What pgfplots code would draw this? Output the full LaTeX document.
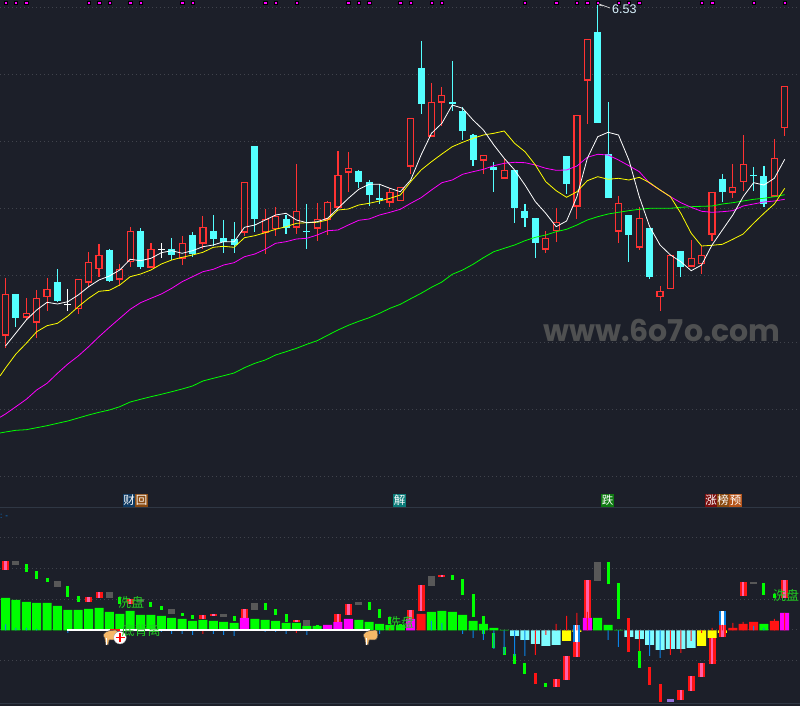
\documentclass[border=0pt]{standalone}
\usepackage{fontspec}
\usepackage{pgfplots}
\usepackage{pgfplotstable}
\pgfplotsset{compat=1.18}
\setmainfont{Liberation Sans}
\newfontfamily\cjk{Noto Sans CJK SC}
\newfontfamily\wm{Poppins}

\definecolor{bg}{HTML}{1C1F29}
\definecolor{sep}{HTML}{2F3744}
\definecolor{griddot}{HTML}{40434C}
\definecolor{upred}{HTML}{FF3232}
\definecolor{downcyan}{HTML}{54FFFF}
\definecolor{barcyan}{HTML}{7FFCFF}
\definecolor{lime}{HTML}{00FF00}
\definecolor{magline}{HTML}{FF00FF}
\definecolor{yelline}{HTML}{FFFF00}
\definecolor{pink}{HTML}{FF5FA8}
\definecolor{pure}{HTML}{FF1414}
\definecolor{grayseg}{HTML}{585858}
\definecolor{bluethin}{HTML}{0A84E8}
\definecolor{purp}{HTML}{9370DB}
\definecolor{handtan}{HTML}{F5B868}
\definecolor{tagnavy}{HTML}{0E3A63}
\definecolor{tagbrown}{HTML}{8A4A10}
\definecolor{tagteal}{HTML}{0A7A78}
\definecolor{taggreen}{HTML}{0F7A12}
\definecolor{tagred}{HTML}{7A0F0F}
\definecolor{tagorange}{HTML}{B5541A}
\definecolor{sigtext}{HTML}{22CC22}

% candles: row positions on the price panel
\pgfplotstableread{
i hi lo top bot
0 278 348 294.3 335.7
2 298.3 320 313.3 317.7
3 290 337.7 298.3 322.7
4 278.3 310.7 289.3 297.3
7 279.3 314 279.3 309.3
8 252 286.7 262.3 282.7
9 244 276.7 255.3 269.3
11 264 286 269.3 279.7
12 227.3 267 231.3 262.3
14 243 267.7 249.3 267.7
17 236 264.7 243.3 258.7
19 216 249.3 227.3 243.7
23 182.3 236 182.3 232.7
25 209 254 219.3 232.7
26 207.3 235.7 216.3 229.3
28 164 234 211.3 227.7
30 203 240.7 219.3 228.7
31 201.3 234.7 202.3 219.7
32 151 207.7 175.3 207.7
33 152 192 168.3 172.7
37 188.3 207 192.3 202.7
38 187.3 201 187.3 201
39 118.3 174 118.3 166.7
41 83 136.7 102.3 136.7
42 87 126 95.3 102.7
46 155.3 174 155.3 160.7
48 159.3 178.7 170.3 178.7
52 231 253 238.3 249.7
53 208 241.7 222.3 231.3
55 115.3 219 115.3 206.7
56 39.3 124 39.3 80.7
59 196 243 203.3 231.7
61 207.3 250 218.3 247.7
63 286 311 291.3 297.3
64 255.3 289.3 255.3 289.3
66 240 266.7 258.3 266.7
67 246 274 255.3 264
68 192.3 241 192.3 234.7
70 164 198 187.3 192.7
71 135 191 164.3 182.3
74 139 196.7 158.3 196.7
75 86.3 136 86.3 128.3
}\upcandles

\pgfplotstableread{
i hi lo top bot
1 294 326.7 294 317.7
5 269.3 302 282 301
10 249 282 250 281
13 228.3 268.7 231 267
16 238 260 249 255
18 232 257 235.3 254
20 215 246 231 239
21 220 252.7 238 241.7
22 222 252.7 239 245
24 146 232 146 219
27 215 234 219 228.3
29 204 249 230.8 231.8
34 170 188 171 182
35 180 206 182 195
36 184 204 198 200
40 41 114 68 104
43 61 111 102 104
44 107.3 140 111.3 131
45 134 166 135 160
47 162 192 167 170
49 170 223 170 208
50 204 227 211 218
51 218 258 218 243
54 156 194 156 184
57 2 123 32 123
58 102 198 154 198
60 215 262 215 235
62 228 279 228 277
65 251 277 251 267
69 174 202 179 192
72 167 191 174.8 175.8
73 166 207 176 204
}\downcandles

\pgfplotstableread{
i hi lo top bot
6 289 310.7 304.5 305.5
15 243.3 257.7 248.8 249.8
}\dojicandles

% moving averages
\pgfplotstableread{
i y
0 346
1 333
2 320
3 310
4 302.3
5 304
6 301.7
7 295
8 286.7
9 280
10 276
11 270
12 259.3
13 260.7
14 258.3
15 252.7
16 250.7
17 253.3
18 250.7
19 246.7
20 245
21 241.7
22 241.7
23 227.3
24 225
25 220
26 215
27 213.3
28 220
29 222.7
30 221.7
31 218.3
32 208.3
33 198.3
34 189.3
35 184.3
36 184.3
37 188.3
38 191.7
39 180
40 155
41 133.3
42 123.3
43 105
44 108.3
45 120
46 130
47 145
48 158.3
49 170
50 185
51 201.7
52 213.3
53 226.7
54 221
55 196.7
56 158.3
57 136.7
58 132.3
59 135
60 160
61 196.7
62 226.7
63 245
64 255
65 261.7
66 270.7
67 265
68 245
69 230
70 215
71 196.7
72 182.7
73 185
74 178.3
75 159.3
}\mafive

\pgfplotstableread{
i y
-0.53 376
0 368
1 354
2 343.3
3 331.7
4 325.7
5 323.3
6 316
7 306.7
8 298.3
9 291.3
10 290.3
11 285
12 276.7
13 274
14 270
15 264
16 260
17 257.3
18 255
19 252.3
20 247.3
21 246.3
22 247.3
23 237.7
24 235.7
25 232.7
26 229.3
27 226.7
28 223.3
29 222.7
30 222.3
31 220
32 210
33 209
34 205
35 203.3
36 201
37 198.3
38 195
39 181.7
40 170
41 161.7
42 154
43 146.7
44 142.3
45 138.3
46 135
47 133.3
48 131
49 143.3
50 151.7
51 165
52 181.7
53 190.7
54 197.3
55 191.7
56 180.7
57 176.7
58 179.3
59 178.3
60 180
61 177.3
62 182.7
63 190
64 196.7
65 213.3
66 233.3
67 246
68 245.3
69 244.3
70 239.3
71 234
72 223.3
73 213.3
74 204
75 188.3
}\maten

\pgfplotstableread{
i y
-0.53 417.3
0 414
1 406.7
2 399.3
3 390
4 383.3
5 373.3
6 364
7 356
8 346.7
9 336.7
10 327.3
11 318.3
12 309.3
13 302.7
14 298.3
15 294
16 288.3
17 281.7
18 276.7
19 271.7
20 269.3
21 265
22 262.7
23 256.7
24 254
25 249.3
26 243.3
27 241.7
28 239
29 238.3
30 235
31 230.7
32 230
33 225
34 220.3
35 219
36 215
37 212.3
38 209.3
39 203.3
40 197.7
41 190
42 182.7
43 180
44 174.3
45 171.7
46 169.3
47 165.7
48 163.3
49 162.3
50 162.7
51 165
52 168.3
53 170.3
54 170
55 166
56 157.3
57 154.3
58 155
59 160
60 165.7
61 171.7
62 183.3
63 190
64 196.7
65 202.7
66 207.3
67 211.3
68 212.3
69 211.7
70 210.7
71 206
72 204
73 202
74 201
75 199.3
}\matwenty

\pgfplotstableread{
i y
-0.53 433
0 432
1 430.3
2 429.7
3 427.7
4 425.7
5 423.3
6 421
7 418
8 415
9 412.3
10 410
11 406.7
12 402
13 399.3
14 396.7
15 394.3
16 391.7
17 389
18 386
19 381
20 378.3
21 375.7
22 373
23 367.7
24 363.3
25 360
26 355
27 351.7
28 348.3
29 344.3
30 340.7
31 335.3
32 330
33 325.3
34 321.3
35 317.7
36 313.3
37 308.3
38 304.3
39 298.7
40 293.3
41 287.3
42 282
43 274.3
44 270
45 264.3
46 257.7
47 251.7
48 248.3
49 245
50 240.7
51 237.3
52 235
53 231.7
54 229.3
55 225
56 220
57 216.7
58 214
59 212.3
60 210.7
61 209.3
62 208.3
63 208.3
64 208.3
65 207.3
66 206.7
67 206.3
68 206
69 204
70 202.7
71 201
72 199.3
73 198.3
74 196.7
75 194.7
}\masixty

% lower panel: wide bars, value = height over the zero line
\pgfplotstableread{
i v
0 32.5
1 30.5
2 28.5
3 27.5
4 27.5
5 24.5
6 20.5
7 20.5
8 21.5
9 22.5
10 18.5
11 16.5
12 19.5
13 15.5
14 15.5
15 14.5
16 12.5
17 11.5
18 9.5
19 10.5
20 9.5
21 8.5
22 7.5
24 11.5
25 10.5
26 9.5
27 7.5
28 7.5
29 4.5
30 4.5
34 10.5
35 8.5
36 6.5
37 5.5
38 5.5
41 18.5
42 19.5
43 18.5
44 15.5
45 9.5
46 6.5
47 2.5
48 0.5
57 12.5
58 5.5
59 0.5
73 6.5
}\greenbars

\pgfplotstableread{
i v
23 12.5
31 5.5
32 8.5
33 11.5
39 11.5
56 12.5
75 17.5
}\magentabars

\pgfplotstableread{
i v
40 16.5
70 2.5
71 6.5
72 8.5
74 9.5
}\redbars

\pgfplotstableread{
i v
54 -10.5
55 -1.5
67 -15.5
68 -7.5
69 -2.5
}\yellowbars

\pgfplotstableread{
i v
49 -5.5
50 -9.5
51 -13.5
52 -15.5
53 -14.5
60 -6.5
61 -8.5
62 -14.5
63 -19.5
64 -18.5
65 -18.5
66 -17.5
}\cyanbars

% floating segments
\pgfplotstableread{
i top bot
0 69.5 60.5
8 33.5 28.5
9 38.5 32.5
12 31.5 26.5
19 15.5 11.5
20 16.5 14.5
23 21.5 12.5
28 10.5 8.5
32 16.5 8.5
33 26.5 15.5
39 20.5 11.5
40 45.5 19.5
42 55.5 53.5
53 -48.5 -56.5
54 -25.5 -49.5
55 -11.5 -26.5
56 50.5 12.5
65 -59.5 -69.5
66 -45.5 -60.5
67 -32.5 -46.5
68 -7.5 -33.5
69 5.5 -6.5
71 48.5 34.5
75 50.5 32.5
}\redpink

\pgfplotstableread{
i top bot
1 69.5 65.5
5 49.5 43.5
10 38.5 32.5
13 31.5 28.5
16 21.5 16.5
21 16.5 13.5
24 27.5 20.5
29 10.5 4.5
34 28.5 25.5
41 54.5 44.5
57 68.5 49.5
72 48.5 46.5
}\grayblocks

\pgfplotstableread{
i top bot
2 66.5 58.5
3 59.5 51.5
4 52.5 48.5
6 44.5 33.5
7 34.5 28.5
11 33.5 26.5
14 28.5 23.5
15 24.5 20.5
17 17.5 14.5
18 15.5 11.5
22 14.5 9.5
25 27.5 20.5
26 21.5 15.5
27 16.5 8.5
30 5.5 4.5
35 28.5 20.5
36 21.5 12.5
37 13.5 6.5
38 6.5 0.5
43 55.5 50.5
44 51.5 35.5
45 36.5 13.5
46 14.5 -3.5
47 -2.5 -17.5
48 -16.5 -24.5
49 -23.5 -33.5
50 -32.5 -43.5
52 -52.5 -56.5
58 68.5 46.5
59 47.5 11.5
61 -20.5 -37.5
73 47.5 35.5
74 36.5 32.5
}\greenseg

\pgfplotstableread{
i top bot
51 -42.5 -53.5
60 12.5 -21.5
62 -36.5 -54.5
63 -53.5 -71.5
}\redseg

\pgfplotstableread{
i top bot
55 5.5 -11.5
69 19.5 5.5
}\blueseg

\pgfplotstableread{
i top bot
64 -68.5 -71.5
}\purpleseg

% thin ticks from the zero line
\pgfplotstableread{
i v
0 6.2
1 2.5
2 2.5
3 1.5
41 9.5
42 7.5
72 4.5
73 2.5
6 -2.5
15 -1.5
16 -3.5
17 -3.5
18 -4.5
20 -3.5
21 -4.5
22 -5.5
25 -1.5
26 -1.5
27 -3.5
29 -4.5
36 -3.5
44 -3.5
45 -7.5
46 -9.5
47 -18.5
48 -23.5
49 -25.5
50 -25.5
58 -9.5
59 -16.5
62 -25.5
63 -27.5
}\bluethins

\pgfplotstableread{
i v
19 -3.5
28 -2.5
37 2.5
51 -24.5
52 -4.5
53 6.5
54 14.5
55 17.5
56 18.5
61 -20.5
64 -24.5
65 -22.5
66 -10.5
67 -2.5
68 2.5
69 5.5
70 7.5
71 8.5
74 11.5
75 17.5
}\redthins

\pgfplotsset{
  panel/.style={scale only axis, width=800pt, xmin=-0.53, xmax=76.47, enlargelimits=false,
    axis line style={draw=none}, tick style={draw=none}, xtick=\empty, yticklabels={},
    ymajorgrids, major grid style={griddot, dash pattern=on 1pt off 3pt, line width=1pt}},
  seg/.style 2 args={forget plot, draw=none, mark=none, error bars/.cd, y dir=plus, y explicit,
    error mark=none, error bar style={draw=#1, line width=#2, solid}},
  bars/.style 2 args={ybar, bar shift=0pt, bar width=#2, fill=#1, draw=none, forget plot},
  ma/.style={#1, line width=.8pt, mark=none, sharp plot, forget plot}
}

% the hand cursor of the signal marks, x y = top left in picture pixels
\newcommand{\handicon}[2]{%
  \begin{scope}[shift={(#1,{706-#2})}]
    \fill[handtan, draw=black!70, line width=.5pt, rounded corners=1pt] (2.5,-2) -- (7,-0.5) -- (14,0) -- (15,-6) -- (13,-10) -- (8,-10) -- (6,-9.5) -- (5.5,-15) -- (2.5,-15) -- (2,-9) -- (0,-5) -- cycle;
    \fill[white] (2.6,-8.5) rectangle (3.6,-14.6);
  \end{scope}}

\begin{document}
\begin{tikzpicture}[x=1pt, y=1pt]
\clip (0,0) rectangle (800,706);
\fill[bg] (0,0) rectangle (800,706);

\begin{axis}[panel, at={(0pt,198pt)}, anchor=south west, height=508pt,
    ymin=0, ymax=508, y dir=reverse,
    ytick={8,75,142,208.7,275.5,342.3,409.1,476}]
  % wicks
  \addplot[seg={upred}{1.1pt}] table[x=i, y=hi, y error expr=\thisrow{lo}-\thisrow{hi}] {\upcandles};
  \addplot[seg={downcyan}{1.1pt}] table[x=i, y=hi, y error expr=\thisrow{lo}-\thisrow{hi}] {\downcandles};
  \addplot[seg={white}{1.1pt}] table[x=i, y=hi, y error expr=\thisrow{lo}-\thisrow{hi}] {\dojicandles};
  % bodies
  \addplot[seg={upred}{7.2pt}] table[x=i, y=top, y error expr=\thisrow{bot}-\thisrow{top}] {\upcandles};
  \addplot[seg={bg}{4.8pt}] table[x=i, y expr=\thisrow{top}+1.2, y error expr=\thisrow{bot}-\thisrow{top}-2.4] {\upcandles};
  \addplot[seg={downcyan}{7pt}] table[x=i, y=top, y error expr=\thisrow{bot}-\thisrow{top}] {\downcandles};
  \addplot[seg={white}{7pt}] table[x=i, y=top, y error expr=\thisrow{bot}-\thisrow{top}] {\dojicandles};
  % averages
  \addplot[ma=lime] table[x=i, y=y] {\masixty};
  \addplot[ma=magline] table[x=i, y=y] {\matwenty};
  \addplot[ma=yelline] table[x=i, y=y] {\maten};
  \addplot[ma=white] table[x=i, y=y] {\mafive};
  % signal squares along the top
  \addplot[only marks, mark=square*, mark size=1.7pt, mark options={fill=magline, draw=none}, forget plot]
    coordinates {(0,2.5) (1,2.5) (2,2.5) (8,2.5) (9,2.5) (10,2.5) (12,2.5) (13,2.5) (17,2.5) (18,2.5)
      (25,2.5) (26,2.5) (28,2.5) (33,2.5) (34,2.5) (35,2.5) (38,2.5) (39,2.5) (41,2.5) (42,2.5) (50,2.5)
      (53,2.5) (55,2.5) (56,2.5) (57,2.5) (59,2.5) (60,2.5) (61,2.5) (67,2.5) (68,2.5) (72,2.5) (75,2.5)};
\end{axis}

\begin{axis}[panel, at={(0pt,0pt)}, anchor=south west, height=198pt,
    ymin=-75.5, ymax=122.5,
    ytick={92.5,61.5,30.5,0.5,-30.5}]
  \addplot[bars={lime}{9pt}] table[x=i, y=v] {\greenbars};
  \addplot[bars={magline}{9pt}] table[x=i, y=v] {\magentabars};
  \addplot[bars={pure}{9pt}] table[x=i, y=v] {\redbars};
  \addplot[bars={yelline}{9pt}] table[x=i, y=v] {\yellowbars};
  \addplot[bars={barcyan}{9pt}] table[x=i, y=v] {\cyanbars};

  \addplot[seg={pure}{7pt}] table[x=i, y=bot, y error expr=\thisrow{top}-\thisrow{bot}] {\redpink};
  \addplot[seg={pink}{2.5pt}] table[x=i, y=bot, y error expr=\thisrow{top}-\thisrow{bot}] {\redpink};
  \addplot[seg={grayseg}{7pt}] table[x=i, y=bot, y error expr=\thisrow{top}-\thisrow{bot}] {\grayblocks};
  \addplot[seg={lime}{3pt}] table[x=i, y=bot, y error expr=\thisrow{top}-\thisrow{bot}] {\greenseg};
  \addplot[seg={pure}{3pt}] table[x=i, y=bot, y error expr=\thisrow{top}-\thisrow{bot}] {\redseg};
  \addplot[seg={bluethin}{7pt}] table[x=i, y=bot, y error expr=\thisrow{top}-\thisrow{bot}] {\blueseg};
  \addplot[seg={white}{3pt}] table[x=i, y=bot, y error expr=\thisrow{top}-\thisrow{bot}] {\blueseg};
  \addplot[seg={purp}{7pt}] table[x=i, y=bot, y error expr=\thisrow{top}-\thisrow{bot}] {\purpleseg};

  \addplot[bars={bluethin}{1pt}] table[x=i, y=v] {\bluethins};
  \addplot[bars={pure}{1pt}] table[x=i, y=v] {\redthins};

  % zero line with the white run
  \addplot[white, line width=2pt, mark=none, forget plot] coordinates {(5.92,0.5) (35.08,0.5)};
  \addplot[pure, line width=2pt, mark=none, forget plot] coordinates {(10.05,0.5) (11,0.5)};
\end{axis}

% panel borders
\draw[sep, line width=1pt] (0,198) -- (800,198);
\draw[sep, line width=1pt] (0,2) -- (800,2);

% watermark
\node[anchor=base, inner sep=0, text=grayseg!85!bg] at (662,364)
  {\wm\bfseries\fontsize{30}{30}\selectfont www.6o7o.com};

% high mark
\draw[white!85!black, line width=.7pt] (599,702) -- (610,698);
\draw[white!85!black, line width=.7pt] (599,701) -- (603,700);
\node[anchor=west, inner sep=0, text=white!85!cyan] at (612,697)
  {\fontsize{12.5}{12.5}\selectfont 6.53};

% event tags over the lower panel
\tikzset{tag/.style={fill=#1, text=white, inner sep=0, minimum width=12.2pt, minimum height=13pt,
    font=\cjk\fontsize{11.5}{12}\selectfont}}
\node[tag=tagnavy] at (129,205.5) {财};
\node[tag=tagbrown] at (141.5,205.5) {回};
\node[tag=tagteal] at (399.5,205.5) {解};
\node[tag=taggreen] at (607.5,205.5) {跌};
\node[tag=tagred] at (711,205.5) {涨};
\node[tag=tagbrown] at (723,205.5) {榜};
\node[tag=tagorange] at (735.5,205.5) {预};

% small readout at top left of the lower panel
\node[anchor=west, inner sep=0, text=bluethin] at (0,190) {\fontsize{8}{8}\selectfont : -};

% hand cursors and plus badge
\handicon{103}{630}
\handicon{363}{630}
\fill[white, draw=black!40, line width=.3pt] (120,68.3) circle (6.3);
\draw[red, line width=1.6pt] (115.5,68.3) -- (124.5,68.3) (120,63.8) -- (120,72.8);

% signal texts
\tikzset{sig/.style={inner sep=0, text=sigtext, font=\cjk\fontsize{13}{13}\selectfont}}
\node[sig] at (131,103) {洗盘};
\node[sig] at (141,75) {底背离};
\node[sig] at (401,83) {洗盘};
\node[sig] at (786,110) {洗盘};
\end{tikzpicture}
\end{document}
